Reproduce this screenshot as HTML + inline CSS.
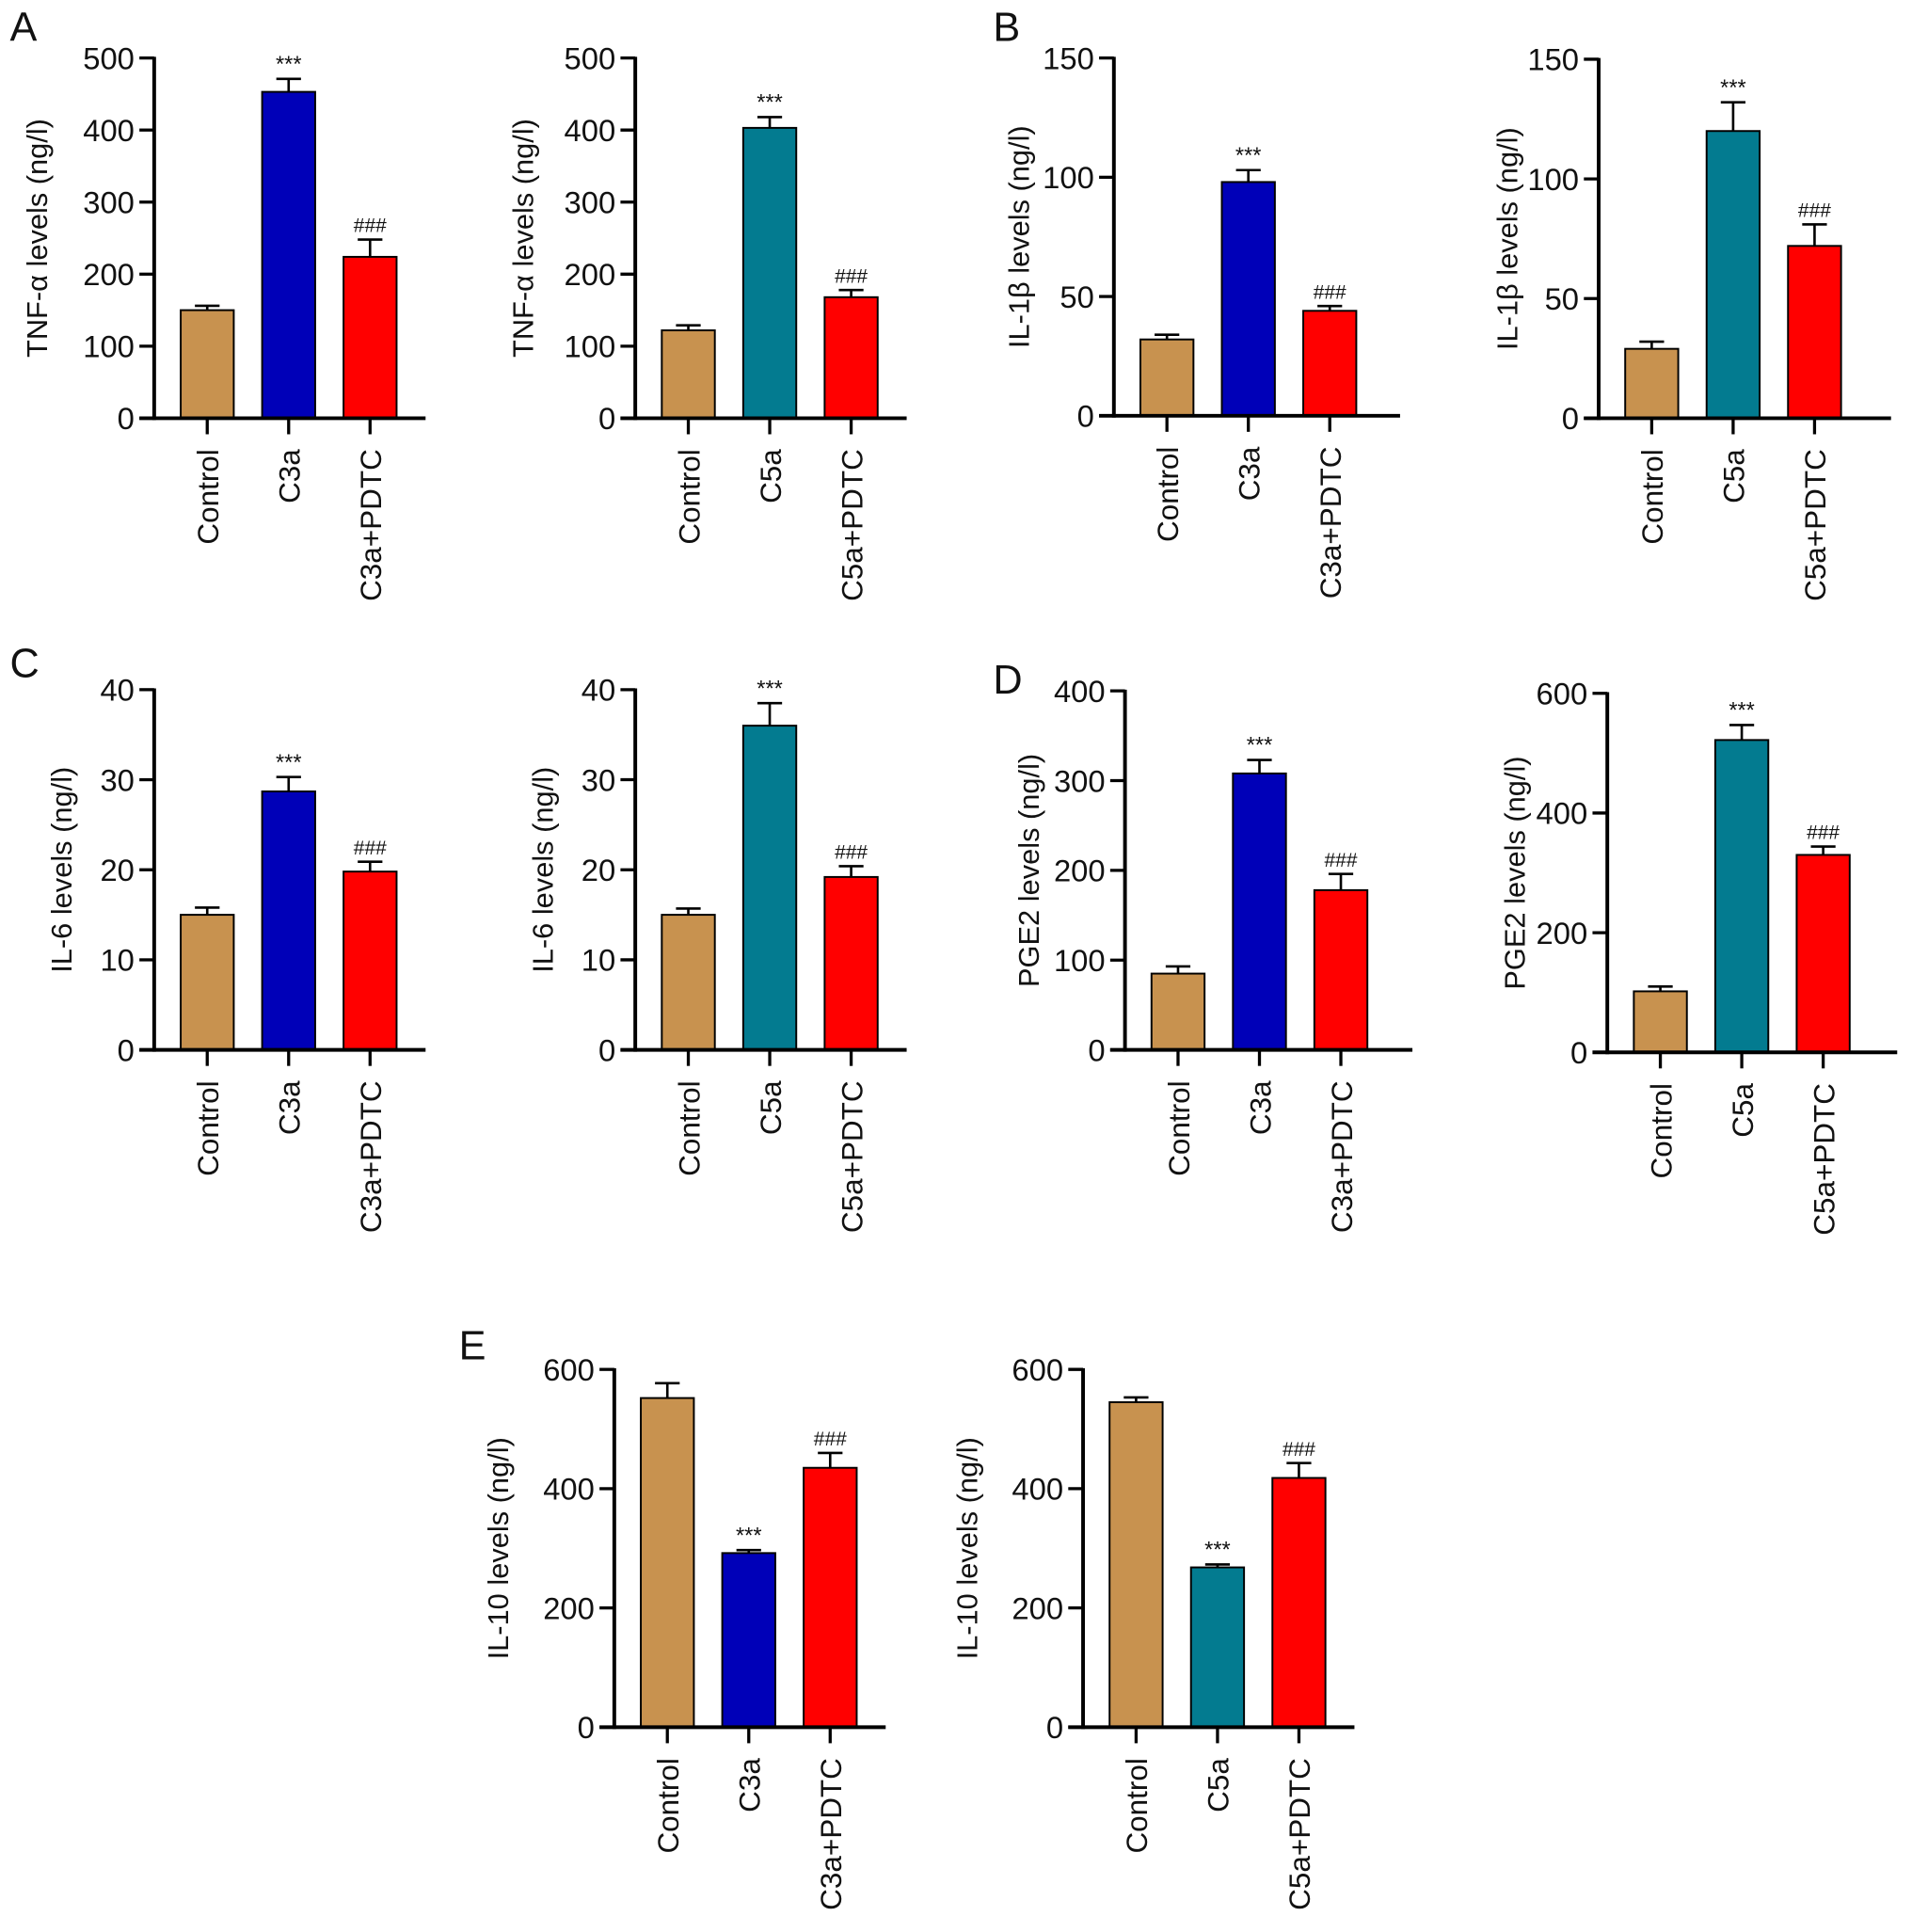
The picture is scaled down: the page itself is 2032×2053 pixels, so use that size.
<!DOCTYPE html>
<html><head><meta charset="utf-8"><style>
html,body{margin:0;padding:0;background:#fff}
svg{display:block}
text{font-family:"Liberation Sans",Arial,sans-serif;fill:#111}
</style></head>
<body>
<svg id="fig" width="2032" height="2053" viewBox="0 0 1550 1566"></svg>
<script>
const catsC3 = ["Control","C3a","C3a+PDTC"];
const catsC5 = ["Control","C5a","C5a+PDTC"];
const tnfC3 = [150,453,224], tnfC3Err = [6,18,24];
const tnfC5 = [122,403,168], tnfC5Err = [7,15,10];
const il1C3 = [32,98,44], il1C3Err = [2,5,2];
const il1C5 = [29,120,72], il1C5Err = [3,12,9];
const il6C3 = [15,28.7,19.8], il6C3Err = [0.8,1.6,1.1];
const il6C5 = [15,36,19.2], il6C5Err = [0.7,2.5,1.2];
const pgeC3 = [85,308,178], pgeC3Err = [8,15,18];
const pgeC5 = [102,522,330], pgeC5Err = [8,25,14];
const il10C3 = [552,292,435], il10C3Err = [25,5,25];
const il10C5 = [545,268,418], il10C5Err = [8,5,25];
const ticks500 = [0,100,200,300,400,500];
const ticks150 = [0,50,100,150];
const ticks40 = [0,10,20,30,40];
const ticks400 = [0,100,200,300,400];
const ticks600 = [0,200,400,600];
const marks = ["","***","###"];
const marksE = ["","***","###"];

const NS="http://www.w3.org/2000/svg";
const svg=document.getElementById('fig');
function el(tag,attrs,parent){const e=document.createElementNS(NS,tag);for(const k in attrs)e.setAttribute(k,attrs[k]);(parent||svg).appendChild(e);return e;}
const colTan="#C8924F",colBlue="#0000B8",colTeal="#037B90",colRed="#FF0000";

function chart(name,ax,top,zero,xend,max,ticks,vals,errs,cats,c2,ylabel,labX,mk){
  const g=el('g',{});
  
  
  const y=v=>zero-(v/max)*(zero-top);
  const bx=i=>ax+43+i*66;
  const cols=[colTan,c2,colRed];
  vals.forEach((v,i)=>{
    const cx=bx(i);
    const e1=el('line',{x1:cx,x2:cx,y1:y(v),y2:y(v+errs[i]),stroke:'#000','stroke-width':2},g);
    
    
    el('line',{x1:cx-10,x2:cx+10,y1:y(v+errs[i]),y2:y(v+errs[i]),stroke:'#000','stroke-width':2},g);
    const r=el('rect',{x:cx-21.5,y:y(v),width:43,height:zero-y(v),fill:cols[i],stroke:'#000','stroke-width':1.5},g);
    
    
    if(mk[i]){const t=el('text',{x:cx,y:y(v+errs[i])-6,'text-anchor':'middle','font-size':mk[i]==='***'?18:16},g);t.textContent=mk[i];
      
      }
    el('line',{x1:cx,x2:cx,y1:zero,y2:zero+13,stroke:'#000','stroke-width':2.5},g);
    const ct=el('text',{transform:`translate(${cx+9},${zero+25}) rotate(-90)`,'text-anchor':'end','font-size':24},g);
    ct.textContent=cats[i];
    
    
  });
  const ya=el('line',{x1:ax,x2:ax,y1:top-1,y2:zero+1.5,stroke:'#000','stroke-width':3},g);
  
  
  const xa=el('line',{x1:ax-12,x2:xend,y1:zero,y2:zero,stroke:'#000','stroke-width':3},g);
  
  
  ticks.forEach(t=>{
    el('line',{x1:ax-12,x2:ax,y1:y(t),y2:y(t),stroke:'#000','stroke-width':2.5},g);
    const tt=el('text',{x:ax-16,y:y(t)+9,'text-anchor':'end','font-size':25},g);
    tt.textContent=t;
    
    
  });
  const yl=el('text',{transform:`translate(${labX},${(top+zero)/2}) rotate(-90)`,'text-anchor':'middle','font-size':23.5},g);
  yl.textContent=ylabel;
  
  
}
chart('tnf-c3a-chart',125,47,339,345,500,ticks500,tnfC3,tnfC3Err,catsC3,colBlue,'TNF-α levels (ng/l)',38,marks);
chart('tnf-c5a-chart',515,47,339,735,500,ticks500,tnfC5,tnfC5Err,catsC5,colTeal,'TNF-α levels (ng/l)',432,marks);
chart('il1b-c3a-chart',903,47,337,1135,150,ticks150,il1C3,il1C3Err,catsC3,colBlue,'IL-1β levels (ng/l)',834,marks);
chart('il1b-c5a-chart',1296,48,339,1533,150,ticks150,il1C5,il1C5Err,catsC5,colTeal,'IL-1β levels (ng/l)',1230,marks);
chart('il6-c3a-chart',125,559,851,345,40,ticks40,il6C3,il6C3Err,catsC3,colBlue,'IL-6 levels (ng/l)',58,marks);
chart('il6-c5a-chart',515,559,851,735,40,ticks40,il6C5,il6C5Err,catsC5,colTeal,'IL-6 levels (ng/l)',448,marks);
chart('pge2-c3a-chart',912,560,851,1145,400,ticks400,pgeC3,pgeC3Err,catsC3,colBlue,'PGE2 levels (ng/l)',842,marks);
chart('pge2-c5a-chart',1303,562,853,1538,600,ticks600,pgeC5,pgeC5Err,catsC5,colTeal,'PGE2 levels (ng/l)',1236,marks);
chart('il10-c3a-chart',498,1110,1400,718,600,ticks600,il10C3,il10C3Err,catsC3,colBlue,'IL-10 levels (ng/l)',412,marksE);
chart('il10-c5a-chart',878,1110,1400,1098,600,ticks600,il10C5,il10C5Err,catsC5,colTeal,'IL-10 levels (ng/l)',792,marksE);

[["A",8,33],["B",805,33],["C",8,549],["D",805,562],["E",372,1102]].forEach(p=>{
  const t=el('text',{x:p[1],y:p[2],'font-size':33});
  t.textContent=p[0];
  
  
});
</script>
</body></html>
